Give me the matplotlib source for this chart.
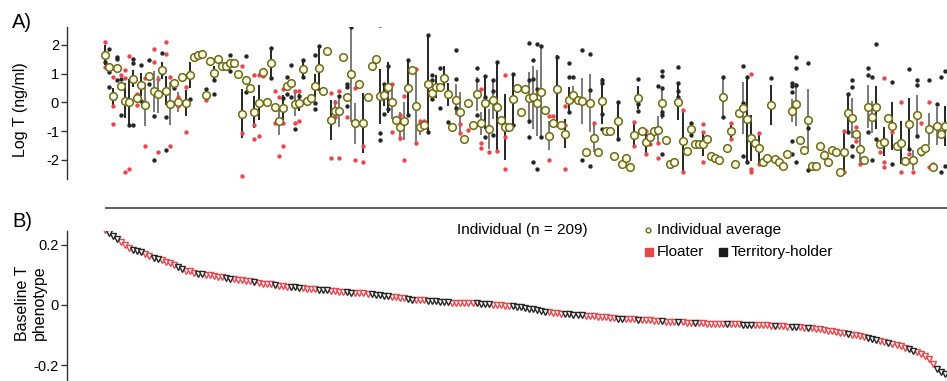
import matplotlib
matplotlib.use("Agg")
import matplotlib.pyplot as plt

plt.rcParams['font.family'] = ['Liberation Sans', 'DejaVu Sans']
plt.rcParams['axes.unicode_minus'] = False

# ---------------- data ----------------
# Panel A: individual average of log T (individuals ordered as in panel B)
avg = [
    1.66, 1.22, 0.21, 1.20, 0.57, 0.06, 0.02, 0.82, 0.16, 0.62,
    -0.08, 0.92, 0.38, 0.28, 1.12, 0.41, -0.05, 0.69, 0.01, 0.87,
    -0.03, 0.96, 1.58, 1.65, 1.68, 0.27, 1.43, 1.02, 1.50, 1.27,
    1.27, 1.36, 1.36, 0.98, -0.39, 0.77, 0.49, -0.34, -0.01, 1.07,
    0.00, 1.38,
    -0.17, -0.64, -0.19, 0.57, 0.68, -0.06, -0.01, 1.17, 0.05, 0.15,
    0.57, 1.21, 0.41, 1.79, -0.62, -0.31, -0.31, 1.58, 0.20, 0.98,
    -0.73, 0.65, -0.71, 0.20, 1.25, 1.50, 0.21, 0.26, 0.52, 0.03,
    -0.61, -0.84, -0.65, 0.50, 1.11, -0.14, -0.87, -0.80, 0.65, 0.34,
    0.54,
    0.52, 0.86, 0.28,
    -0.84, 0.10, -0.34, -1.27, -0.03, -0.80, 0.29, -0.72, -0.03, -0.92,
    0.09, -0.15, -0.61, -0.85, -0.84, 0.12, 0.51, -0.34, 0.47, 0.15,
    0.18, -0.01, 0.36, -0.27, -1.15, -0.73, 0.45, -0.80, -1.09, 0.10,
    0.27, 0.08, 0.06, -1.73, -0.03, -1.23, -1.73, 0.04,
    -1.01, -1.00, -1.85, -0.63, -2.14, -1.92, -2.23, -1.13, 0.16, -1.01,
    -1.38, -1.19, -1.01, -0.96, -0.03, -1.30, -2.14, -2.06, 0.00, -1.33,
    -1.68, -0.92, -1.45, -1.45, -1.45, -1.27, -1.85, -1.92, -1.99, 0.18,
    -1.59, -0.99, -2.14, -0.38, -0.19, -0.59, -1.22, -1.41, -1.59, -2.06,
    -1.92,
    -0.08, -1.95, -2.06, -2.22, -1.79, -0.29, -0.06, -1.30, -1.64, -0.62,
    -2.22, -2.22, -1.50, -1.83, -2.06, -1.64, -1.73, -2.43, -1.73, -0.36,
    -0.53, -1.10, -1.62, -1.99, -0.15, -0.51, -0.17, -1.46, -1.37, -0.53,
    -0.82, -1.52, -1.40, -2.03, -0.76, -1.99, -0.45, -1.69, -1.59, -0.92,
    -2.25, -0.82, -1.10, -0.82,
]

# vertical bars: (individual, half length, colour code k=black g=grey)
errbars = [
    (0, 0.35, 'k'), (2, 0.30, 'k'), (5, 0.60, 'k'), (6, 0.80, 'k'), (7, 0.30, 'k'),
    (9, 0.40, 'k'), (10, 0.75, 'g'), (12, 0.70, 'g'), (13, 0.65, 'g'), (14, 0.30, 'k'),
    (15, 0.50, 'k'), (16, 0.75, 'g'), (18, 0.35, 'g'), (20, 0.45, 'k'), (21, 0.45, 'k'),
    (27, 0.25, 'k'), (34, 0.85, 'k'), (37, 0.55, 'k'), (38, 0.60, 'k'),
    (41, 0.50, 'k'), (43, 0.50, 'g'), (44, 0.45, 'k'), (47, 0.40, 'g'), (48, 0.30, 'k'),
    (49, 0.30, 'k'), (52, 0.40, 'k'), (53, 0.80, 'k'), (56, 0.70, 'k'), (57, 0.40, 'g'),
    (58, 0.55, 'g'), (61, 1.65, 'g'), (62, 0.70, 'g'), (64, 1.05, 'k'), (68, 0.95, 'k'),
    (69, 0.40, 'k'), (70, 0.90, 'k'), (71, 0.60, 'g'), (73, 0.50, 'g'), (74, 0.65, 'g'),
    (75, 0.95, 'k'), (77, 1.30, 'g'), (78, 0.25, 'g'), (80, 1.70, 'k'), (82, 0.40, 'k'),
    (84, 0.40, 'k'), (85, 0.40, 'k'), (87, 0.55, 'g'), (88, 0.70, 'g'), (92, 0.60, 'g'),
    (93, 0.40, 'g'), (94, 0.90, 'k'), (95, 0.70, 'g'), (96, 0.65, 'g'), (97, 1.60, 'k'),
    (99, 1.15, 'k'), (101, 0.90, 'k'), (105, 0.90, 'g'), (106, 1.10, 'g'), (107, 1.15, 'g'),
    (108, 1.60, 'g'), (110, 0.50, 'g'), (112, 1.20, 'k'), (114, 0.50, 'k'), (115, 0.45, 'k'),
    (116, 0.30, 'g'), (118, 0.80, 'g'), (120, 1.00, 'g'), (121, 0.50, 'g'), (123, 0.80, 'k'),
    (127, 0.60, 'k'), (131, 0.40, 'k'), (132, 0.40, 'k'), (134, 0.45, 'k'), (137, 0.50, 'g'),
    (138, 0.55, 'g'), (142, 0.60, 'k'), (143, 1.10, 'k'), (145, 0.25, 'k'), (148, 0.40, 'k'),
    (153, 0.70, 'g'), (155, 0.30, 'k'), (158, 0.90, 'g'), (159, 1.50, 'k'), (160, 0.80, 'k'),
    (162, 0.55, 'k'), (165, 0.70, 'k'), (170, 0.40, 'g'), (171, 0.75, 'g'), (174, 1.10, 'g'),
    (183, 0.70, 'k'), (184, 0.70, 'k'), (185, 0.70, 'g'), (187, 0.45, 'g'), (189, 0.75, 'g'),
    (190, 0.55, 'g'), (191, 0.75, 'k'), (193, 0.50, 'k'), (195, 0.85, 'k'), (197, 0.75, 'k'),
    (199, 0.90, 'k'), (200, 0.35, 'g'), (201, 0.70, 'g'), (204, 0.55, 'g'), (206, 0.65, 'g'),
    (208, 0.70, 'k'),
]

# single samples: (individual, log T)
floater_samples = [
    (0, 2.10), (0, 1.23), (2, 0.88), (2, -0.13), (2, -0.75), (4, 0.96), (5, 1.12), (5, 0.85),
    (5, -2.43), (6, 1.60), (6, -2.31), (8, 0.30), (8, -0.10), (10, 0.85), (10, -1.50),
    (12, 1.87), (12, 1.40), (13, 0.80), (13, -1.73), (15, 2.10), (15, 1.69), (16, 0.90),
    (16, -1.50), (18, 0.20), (18, -0.13), (20, 0.53), (20, -1.03), (25, 0.10), (34, 1.26),
    (34, -1.06), (34, -2.57), (37, 0.96), (37, -0.78), (37, -1.27), (38, 0.94), (38, -1.15),
    (39, 0.92), (42, 0.39), (42, -0.71), (43, 0.18), (43, -1.85), (44, 0.47), (44, -1.50),
    (44, -0.71), (47, 0.39), (47, -0.71), (48, 0.39), (48, -0.63), (56, 0.32), (56, -1.92),
    (57, 0.00), (57, -0.51), (58, 0.39), (58, -1.92), (60, -0.51), (62, 0.51), (62, -2.00),
    (64, -1.50), (64, -2.06), (71, 0.63), (71, -1.04), (73, -0.45), (73, -1.23), (74, 0.24),
    (74, -2.00), (77, 1.17), (77, -1.40), (78, -0.63), (79, -0.63), (88, -0.74), (88, -1.06),
    (90, -0.95), (93, 0.47), (93, -1.40), (93, -1.59), (95, -1.73), (97, -1.69), (99, 0.94),
    (99, -1.21), (99, -2.32), (110, -0.48), (110, -2.00), (111, -0.48), (112, -0.80),
    (114, -0.13), (114, -2.32), (114, -0.80), (121, -0.72), (122, -1.73), (131, -0.69),
    (131, -1.53), (133, -0.98), (134, -0.98), (134, -1.80), (135, -1.46), (137, -1.41),
    (137, -1.92), (143, -0.25), (143, -2.43), (148, -0.76), (148, -1.04), (148, -2.06),
    (155, -0.72), (155, -1.27), (160, 0.97), (160, -2.31), (160, -2.43), (162, -1.06),
    (162, -2.14), (178, -1.73), (178, -1.85), (183, -1.01), (183, -2.43), (186, -0.86),
    (186, -1.33), (187, -2.14), (192, -1.71), (193, 0.85), (193, -2.08), (193, -2.25),
    (195, -1.04), (197, 0.01), (197, -2.43), (199, -1.79), (200, -2.43), (202, -0.72),
    (202, -1.79), (204, 0.03), (204, -2.25), (205, -2.14),
]

territory_samples = [
    (0, 1.40), (1, 1.85), (1, 1.05), (1, 0.55), (3, 1.58), (3, 1.50), (3, 0.77), (4, 0.80),
    (4, -0.43), (6, -0.78), (7, 1.52), (7, 1.38), (7, -0.80), (9, 1.29), (9, 0.05), (11, 1.46),
    (11, 0.65), (12, -0.48), (12, -1.99), (14, 1.73), (14, 1.03), (15, -0.50), (15, -1.64),
    (17, 0.50), (19, 0.85), (21, 0.12), (25, 0.47), (27, 0.78), (27, 0.30), (31, 1.64),
    (31, 1.08), (35, 1.61), (35, 0.36), (36, 0.55), (41, 1.90), (41, 0.86), (44, 0.15),
    (45, 0.88), (45, 0.28), (46, 1.29), (46, 0.18), (47, -0.94), (48, 0.22), (49, 1.46),
    (49, 0.88), (52, 1.64), (52, -0.01), (52, -0.22), (53, 1.96), (58, 0.21), (60, 0.65),
    (60, 0.53), (60, -0.14), (61, 2.62), (68, 2.70), (68, -1.07), (68, -1.30), (69, 0.65),
    (69, -0.40), (70, 1.26), (70, -0.22), (72, -0.62), (75, 1.46), (75, -0.45), (80, 2.33),
    (80, -1.04), (81, 0.96), (81, 0.77), (81, 0.13), (83, 1.21), (83, -0.19), (85, -0.69),
    (86, -0.80), (87, 1.83), (87, 0.82), (87, -0.19), (92, 1.19), (92, 0.77), (92, -0.42),
    (94, 0.92), (94, 0.18), (94, -1.19), (96, 0.77), (96, 0.39), (96, -1.13), (97, 1.40),
    (101, 0.99), (101, -0.78), (105, 2.06), (105, 0.77), (105, -0.66), (105, -1.19),
    (106, 1.48), (106, 0.82), (106, -2.06), (107, 2.02), (107, 0.47), (107, -2.32),
    (108, 1.96), (108, -1.21), (112, 1.58), (115, 1.37), (115, 0.88), (115, -0.34),
    (116, 0.90), (117, 0.03), (118, 1.83), (118, -2.00), (120, 1.69), (120, 0.42),
    (120, -2.22), (123, 0.79), (123, 0.68), (123, -0.40), (123, -0.92), (127, 0.01),
    (127, -1.27), (132, 0.82), (132, -0.06), (132, -0.29), (137, 0.57), (138, 1.08),
    (138, 0.92), (138, 0.50), (138, -0.32), (138, -0.45), (138, -1.80), (142, 1.23),
    (142, 0.68), (142, 0.38), (142, 0.18), (145, -0.71), (145, -1.13), (153, 0.88),
    (153, -0.51), (158, 1.26), (158, -0.01), (158, -1.86), (159, 0.88), (159, -2.06),
    (165, 0.86), (170, 0.68), (170, 0.57), (170, 0.36), (170, -1.33), (170, -1.79),
    (171, 1.58), (171, 1.19), (171, 0.59), (171, -2.06), (174, 1.37), (174, -0.90),
    (174, -2.34), (184, 0.30), (184, -1.04), (185, 0.77), (185, 0.53), (185, -1.52),
    (185, -1.87), (189, 1.19), (189, 0.96), (189, -1.04), (190, 0.88), (190, -1.99),
    (191, 2.04), (191, -1.27), (195, 0.71), (195, -2.14), (199, 1.17), (199, -1.62),
    (201, 0.77), (201, 0.59), (201, -1.15), (204, 0.77), (206, -0.07), (207, 0.88),
    (207, -2.43), (208, 1.08), (208, -2.20),
]

# Panel B: baseline T phenotype (sorted) and status (F = floater, T = territory-holder)
pheno = [
    0.248, 0.238, 0.228, 0.218, 0.209, 0.199, 0.189, 0.183, 0.179, 0.175,
    0.168, 0.162, 0.157, 0.153, 0.148, 0.143, 0.139, 0.133, 0.126, 0.119,
    0.114, 0.111, 0.107, 0.104, 0.102, 0.100, 0.099, 0.096, 0.093, 0.091,
    0.088, 0.086, 0.085, 0.084, 0.082, 0.080, 0.078, 0.075, 0.073, 0.071,
    0.070, 0.068, 0.067, 0.064, 0.062, 0.061, 0.060, 0.058, 0.057, 0.055,
    0.054, 0.053, 0.052, 0.051, 0.049, 0.048, 0.047, 0.046, 0.044, 0.043,
    0.042, 0.041, 0.040, 0.039, 0.038, 0.037, 0.036, 0.034, 0.032, 0.030,
    0.029, 0.027, 0.025, 0.024, 0.022, 0.020, 0.018, 0.017, 0.016, 0.015,
    0.014, 0.013, 0.012, 0.011, 0.010, 0.009, 0.008, 0.008, 0.007, 0.007,
    0.006, 0.005, 0.005, 0.004, 0.003, 0.002, 0.001, 0.000, -0.001, -0.002,
    -0.003, -0.004, -0.006, -0.008, -0.010, -0.013, -0.015, -0.017, -0.020, -0.023,
    -0.025, -0.027, -0.028, -0.029, -0.030, -0.031, -0.032, -0.033, -0.034, -0.036,
    -0.037, -0.038, -0.039, -0.040, -0.041, -0.042, -0.043, -0.045, -0.046, -0.047,
    -0.048, -0.048, -0.049, -0.050, -0.051, -0.051, -0.052, -0.053, -0.054, -0.055,
    -0.056, -0.057, -0.058, -0.058, -0.059, -0.060, -0.060, -0.061, -0.061, -0.062,
    -0.062, -0.063, -0.063, -0.063, -0.064, -0.064, -0.064, -0.064, -0.065, -0.065,
    -0.066, -0.066, -0.067, -0.067, -0.068, -0.069, -0.069, -0.070, -0.071, -0.072,
    -0.073, -0.073, -0.074, -0.076, -0.077, -0.078, -0.080, -0.081, -0.083, -0.085,
    -0.087, -0.090, -0.092, -0.094, -0.097, -0.099, -0.101, -0.103, -0.106, -0.109,
    -0.112, -0.115, -0.118, -0.122, -0.126, -0.129, -0.132, -0.137, -0.142, -0.147,
    -0.152, -0.157, -0.162, -0.170, -0.180, -0.197, -0.211, -0.222, -0.230,
]

status = ("F" "TTT" "FFF" "TTT" "FF" "TT" "FFFF" "TT" "FFF" "TT" "FFFFF" "TT"
          "FFFFF" "T" "FFFF" "T" "FFF" "TT" "T" "FFFF" "TTT" "FFFF" "TT" "FFFF"
          "TTTTT" "FFFF" "TT" "FFF" "TTTTTT" "FFFFFF" "TTTT" "FFFFF" "TTTTTTTTT"
          "FFFF" "TTTTT" "FFFFFFFF" "TT" "FFF" "T" "FFFFF" "T" "FFF" "T" "FFF" "T"
          "FFFFFFF" "T" "FFF" "TTT" "FFFFF" "T" "FFF" "TT" "FF" "T" "FFFFFFFFF" "T"
          "FFFF" "TTT" "FF" "T" "FFFF" "TT" "FFFFF" "TTT")

yticks_a = [-2, -1, 0, 1, 2]
yticks_b = [-0.2, 0, 0.2]
yticklabels_b = ["-0.2", "0", "0.2"]

# ---------------- styling ----------------
RED = '#e8474c'
BLACK = '#262626'
OLIVE = '#6e6a10'
CFACE = '#fdfdea'
GREY = '#7a7a7a'
SPINE = '#333333'

W, H = 947, 381
fig = plt.figure(figsize=(W / 100, H / 100), dpi=100)

def frac_box(l, t, r, b):
    return [l / W, 1 - b / H, (r - l) / W, (b - t) / H]

n = len(avg)
xs = list(range(n))
xlim = (-9.5, 208.5)

# ---------- Panel A ----------
axA = fig.add_axes(frac_box(66.7, 26.7, 947, 179))
axA.set_xlim(*xlim)
axA.set_ylim(-2.66, 2.63)
for i, h, c in errbars:
    axA.vlines(i, avg[i] - h, avg[i] + h, colors=(BLACK if c == 'k' else GREY),
               linewidth=1.4, zorder=1)
axA.scatter([p[0] for p in territory_samples], [p[1] for p in territory_samples],
            s=10, color=BLACK, linewidths=0, zorder=2)
axA.scatter([p[0] for p in floater_samples], [p[1] for p in floater_samples],
            s=10, color=RED, linewidths=0, zorder=2)
axA.scatter(xs, avg, s=30, facecolor=CFACE, edgecolor=OLIVE, linewidths=1.1, zorder=3)

for s in ['top', 'right', 'bottom']:
    axA.spines[s].set_visible(False)
axA.spines['left'].set_color(SPINE)
axA.spines['left'].set_linewidth(1.0)
axA.set_xticks([])
axA.set_yticks(yticks_a)
axA.set_yticklabels([str(t) for t in yticks_a])
axA.tick_params(axis='y', length=4, width=1.0, color=SPINE, labelsize=10.5, pad=1.5)

# ---------- Panel B ----------
axB = fig.add_axes(frac_box(66.7, 230.7, 947, 381))
axB.set_xlim(*xlim)
axB.set_ylim(-0.252, 0.246)
axB.plot(xs, pheno, color='#b0b0b0', linewidth=1.6, zorder=1)
for st, col in (('F', RED), ('T', BLACK)):
    ix = [i for i in xs if status[i] == st]
    axB.plot(ix, [pheno[i] for i in ix], linestyle='none', marker='v', markersize=4.6,
             markerfacecolor='white', markeredgecolor=col, markeredgewidth=1.0, zorder=2)
for s in ['top', 'right', 'bottom']:
    axB.spines[s].set_visible(False)
axB.spines['left'].set_color(SPINE)
axB.spines['left'].set_linewidth(1.0)
axB.set_xticks([])
axB.set_yticks(yticks_b)
axB.set_yticklabels(yticklabels_b)
axB.tick_params(axis='y', length=4, width=1.0, color=SPINE, labelsize=10.5, pad=1.5)

# ---------- overlay for annotations (pixel coordinates) ----------
ov = fig.add_axes([0, 0, 1, 1], zorder=5)
ov.set_xlim(0, W)
ov.set_ylim(H, 0)
ov.axis('off')
ov.patch.set_alpha(0)

ov.plot([105, 947], [208.3, 208.3], color=SPINE, linewidth=1.1, solid_capstyle='butt')

ov.text(12, 22, "A)", fontsize=14.5, va='center', ha='left')
ov.text(12, 221.5, "B)", fontsize=14.5, va='center', ha='left')
ov.text(21, 110, "Log T (ng/ml)", fontsize=11.5, rotation=90, va='center', ha='center')
ov.text(31, 303, "Baseline T\nphenotype", fontsize=11.5, rotation=90, va='center',
        ha='center', linespacing=1.2, multialignment='center')

ov.text(457, 230, "Individual (n = 209)", fontsize=11, va='center', ha='left')
ov.plot([648], [230], marker='o', markersize=3.4, markerfacecolor='white',
        markeredgecolor=OLIVE, markeredgewidth=1.0, linestyle='none')
ov.text(657, 230, "Individual average", fontsize=11, va='center', ha='left')
ov.plot([649], [252], marker='s', markersize=5.2, color=RED, linestyle='none')
ov.text(657, 252, "Floater", fontsize=11, va='center', ha='left')
ov.plot([723], [252], marker='s', markersize=5.2, color='#1a1a1a', linestyle='none')
ov.text(731, 252, "Territory-holder", fontsize=11, va='center', ha='left')

fig.savefig("out.png", dpi=100)
